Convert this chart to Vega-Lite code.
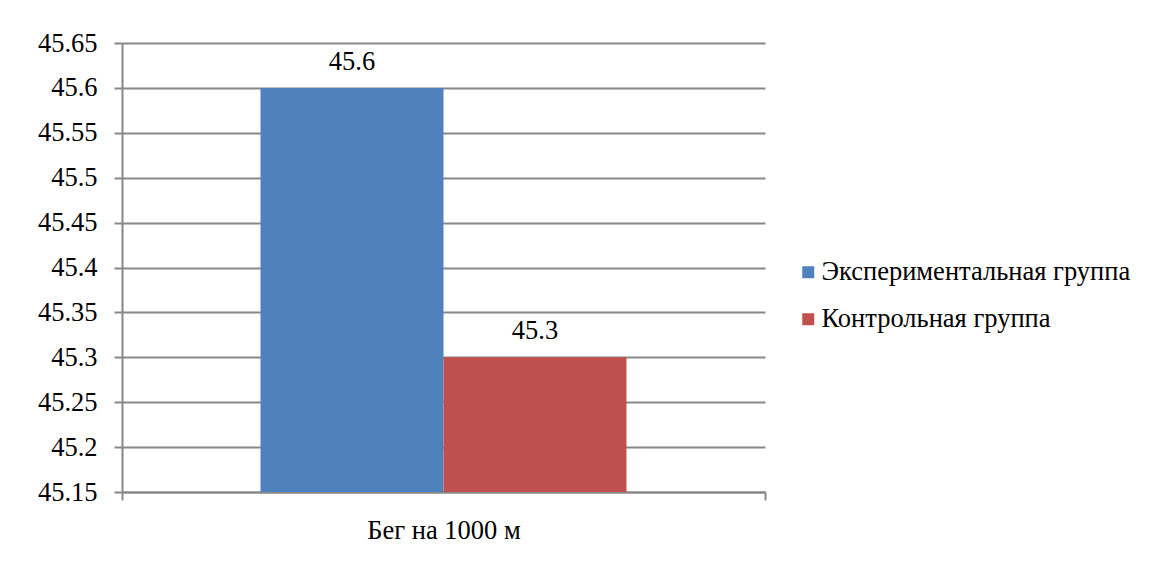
{
  "$schema": "https://vega.github.io/schema/vega-lite/v6.json",
  "width": 643,
  "height": 449,
  "autosize": {"type": "none"},
  "padding": {"left": 122, "top": 43, "right": 385, "bottom": 76},
  "background": "white",
  "config": {
    "font": "Liberation Serif",
    "view": {"stroke": null},
    "axis": {"labelFont": "Liberation Serif"},
    "legend": {"labelFont": "Liberation Serif"},
    "text": {"font": "Liberation Serif"}
  },
  "data": {
    "values": [
      {"category": "Бег на 1000 м", "group": "Экспериментальная группа", "value": 45.6},
      {"category": "Бег на 1000 м", "group": "Контрольная группа", "value": 45.3}
    ]
  },
  "encoding": {
    "x": {
      "field": "category",
      "type": "nominal",
      "title": null,
      "scale": {"paddingInner": 0, "paddingOuter": 0},
      "axis": {
        "labelAngle": 0,
        "labelFont": "Liberation Serif",
        "labelFontSize": 26.5,
        "labelColor": "#000000",
        "labelPadding": 17,
        "tickBand": "extent",
        "tickSize": 8,
        "tickColor": "#888888",
        "tickWidth": 2,
        "domainColor": "#888888",
        "domainWidth": 2,
        "grid": false
      }
    },
    "xOffset": {
      "field": "group",
      "type": "nominal",
      "sort": ["Экспериментальная группа", "Контрольная группа"],
      "scale": {"paddingInner": 0, "paddingOuter": 0.757}
    },
    "y": {
      "field": "value",
      "type": "quantitative",
      "title": null,
      "scale": {"domain": [45.15, 45.65], "zero": false, "nice": false},
      "axis": {
        "values": [45.15, 45.2, 45.25, 45.3, 45.35, 45.4, 45.45, 45.5, 45.55, 45.6, 45.65],
        "format": ".4~g",
        "labelFont": "Liberation Serif",
        "labelFontSize": 26.5,
        "labelColor": "#000000",
        "labelPadding": 17,
        "tickSize": 8,
        "tickColor": "#888888",
        "tickWidth": 2,
        "domainColor": "#888888",
        "domainWidth": 2,
        "gridColor": "#888888",
        "gridWidth": 2,
        "gridOpacity": 1
      }
    }
  },
  "layer": [
    {
      "mark": {"type": "bar", "clip": true},
      "encoding": {
        "color": {
          "field": "group",
          "type": "nominal",
          "sort": ["Экспериментальная группа", "Контрольная группа"],
          "scale": {"domain": ["Экспериментальная группа", "Контрольная группа"], "range": ["#4F81BD", "#C0504D"]},
          "legend": {
            "title": null,
            "orient": "none",
            "legendX": 673,
            "legendY": 216,
            "symbolType": "square",
            "symbolSize": 144,
            "symbolStrokeWidth": 0,
            "symbolOpacity": 1,
            "labelFont": "Liberation Serif",
            "labelFontSize": 26.5,
            "labelColor": "#000000",
            "labelOffset": 0,
            "rowPadding": 20,
            "labelLimit": 400
          }
        }
      }
    },
    {
      "mark": {"type": "text", "dy": -26, "font": "Liberation Serif", "fontSize": 26.5, "color": "#000000"},
      "encoding": {
        "text": {"field": "value", "type": "quantitative", "format": ".1f"}
      }
    }
  ]
}
